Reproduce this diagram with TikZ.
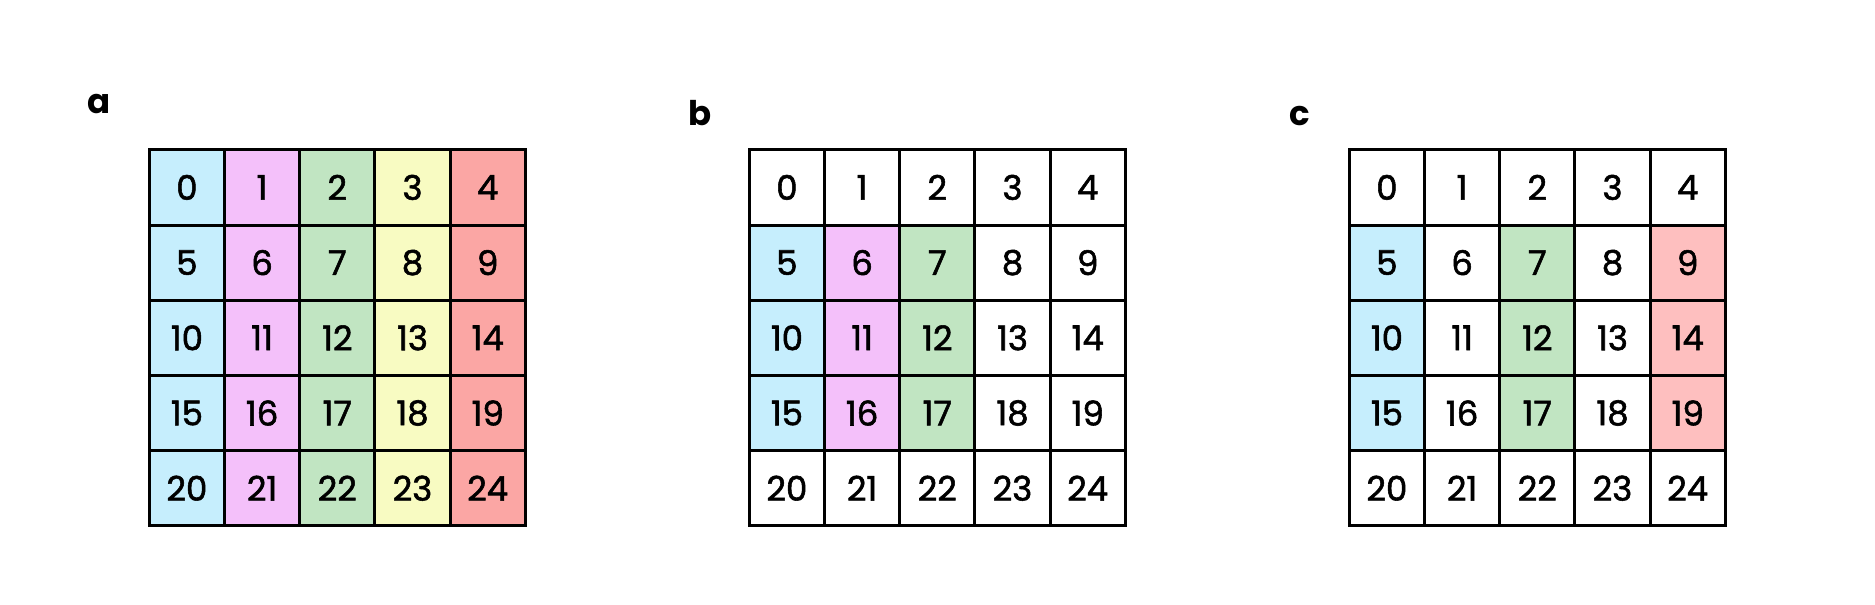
\documentclass[tikz,border=0pt]{standalone}
\usepackage{fontspec}
\setmainfont{Poppins}
\newfontfamily\digfont{Poppins}[FakeBold=1.6]
\definecolor{cblue}{HTML}{C6EEFD}
\definecolor{cpink}{HTML}{F4C0FA}
\definecolor{cgreen}{HTML}{C1E5C2}
\definecolor{cyellow}{HTML}{F8FBC2}
\definecolor{cred}{HTML}{FBA6A4}
\definecolor{clred}{HTML}{FEBFBF}
\colorlet{colA0}{cblue}
\colorlet{colA1}{cpink}
\colorlet{colA2}{cgreen}
\colorlet{colA3}{cyellow}
\colorlet{colA4}{cred}
\begin{document}
\begin{tikzpicture}[x=0.5pt,y=-0.5pt,
  cell/.style={draw=black, line width=1.5pt, minimum width=37.6pt, minimum height=37.6pt,
    inner sep=0pt, font=\digfont\fontsize{17}{20}\selectfont},
  panel/.style={anchor=base, font=\fontsize{17}{20}\selectfont\bfseries}]
\useasboundingbox (0,0) rectangle (1875,605);
\foreach \r in {0,...,4}{
  \foreach \c in {0,...,4}{
    \pgfmathtruncatemacro\n{5*\r+\c}
    \pgfmathsetmacro\cx{75.2*(\c+0.5)}
    \pgfmathsetmacro\cy{149.8+75.2*(\r+0.5)}
    \def\fb{white}\ifnum\r>0 \ifnum\r<4 \ifnum\c<3 \edef\fb{colA\c}\fi\fi\fi
    \def\fc{white}\ifnum\r>0 \ifnum\r<4 \ifcase\c \def\fc{cblue}\or\or\def\fc{cgreen}\or\or\def\fc{clred}\fi\fi\fi
    \node[cell, fill=colA\c] (a\n) at (149.3+\cx,\cy) {\n};
    \node[cell, fill=\fb] (b\n) at (749.3+\cx,\cy) {\n};
    \node[cell, fill=\fc] (c\n) at (1349.3+\cx,\cy) {\n};
  }
}
\node[panel] (la) at (99,113) {a};
\node[panel] (lb) at (700,125) {b};
\node[panel] (lc) at (1300,125) {c};
\end{tikzpicture}
\end{document}
